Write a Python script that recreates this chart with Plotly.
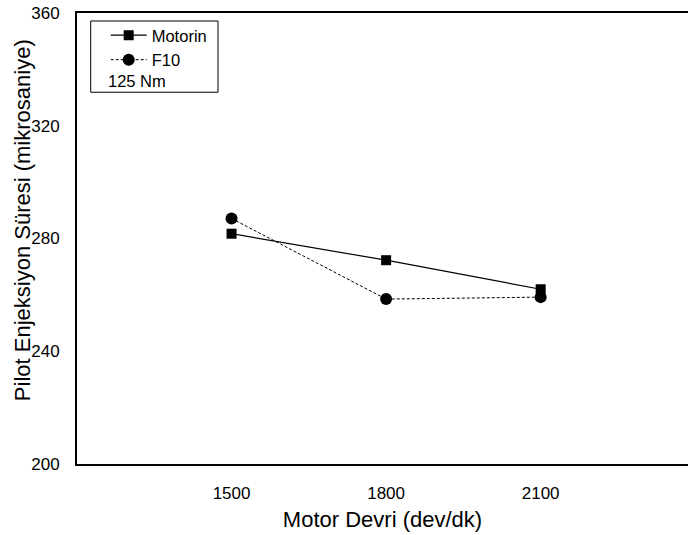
import plotly.graph_objects as go

speeds = [1500, 1800, 2100]
motorin = [281.7, 272.3, 262.0]
f10 = [287.1, 258.5, 259.2]
x_ticks = [1500, 1800, 2100]
y_ticks = [200, 240, 280, 320, 360]

FONT = "Liberation Sans, Arial, sans-serif"
PLOT_W = 611.0
PLOT_H = 451.3
L, T = 77.0, 12.7


def px(xp):
    return (xp - L) / PLOT_W


def py(yp):
    return (T + PLOT_H - yp) / PLOT_H


fig = go.Figure()
fig.add_trace(go.Scatter(
    x=speeds, y=motorin, name="Motorin", mode="lines+markers",
    line=dict(color="black", width=1.2),
    marker=dict(symbol="square", size=10, color="black"),
))
fig.add_trace(go.Scatter(
    x=speeds, y=f10, name="F10", mode="lines+markers",
    line=dict(color="black", width=1, dash="3px,2px"),
    marker=dict(symbol="circle", size=12, color="black"),
))

# legend frame and the extra "125 Nm" line
fig.add_shape(type="rect", xref="paper", yref="paper",
              x0=px(90.7), x1=px(218), y0=py(92), y1=py(20.7),
              line=dict(color="black", width=1), fillcolor="rgba(0,0,0,0)")
fig.add_annotation(
    text="125 Nm", xref="paper", yref="paper", x=px(106), y=py(81),
    xanchor="left", yanchor="middle", showarrow=False,
    font=dict(size=16.5, family=FONT, color="black"),
)
# y axis title
fig.add_annotation(
    text="Pilot Enjeksiyon Süresi (mikrosaniye)", xref="paper", yref="paper",
    x=px(22), y=py(220), xanchor="center", yanchor="middle", textangle=-90,
    showarrow=False, font=dict(size=22, family=FONT, color="black"),
)

fig.update_layout(
    width=688, height=535,
    margin=dict(l=77, r=0, t=13, b=71),
    paper_bgcolor="white", plot_bgcolor="white",
    font=dict(family=FONT, color="black"),
    showlegend=True,
    legend=dict(
        x=px(91.7), y=py(17.7), xanchor="left", yanchor="top",
        borderwidth=0, bgcolor="rgba(255,255,255,0)",
        font=dict(size=16.5, family=FONT), tracegroupgap=0,
        itemwidth=36, indentation=14,
    ),
    xaxis=dict(
        range=[1200, 2386], tickvals=x_ticks, ticktext=[str(v) for v in x_ticks],
        showline=True, linecolor="black", linewidth=2, mirror=True,
        showgrid=False, zeroline=False, ticks="",
        tickfont=dict(size=17, family=FONT), ticklabelstandoff=13,
        title=dict(text="Motor Devri (dev/dk)", font=dict(size=22, family=FONT), standoff=9),
    ),
    yaxis=dict(
        range=[200, 360], tickvals=y_ticks, ticktext=[str(v) for v in y_ticks],
        showline=True, linecolor="black", linewidth=2, mirror=False,
        showgrid=False, zeroline=False, ticks="",
        tickfont=dict(size=17, family=FONT), ticklabelstandoff=12,
    ),
)

fig.write_html("out.html")
